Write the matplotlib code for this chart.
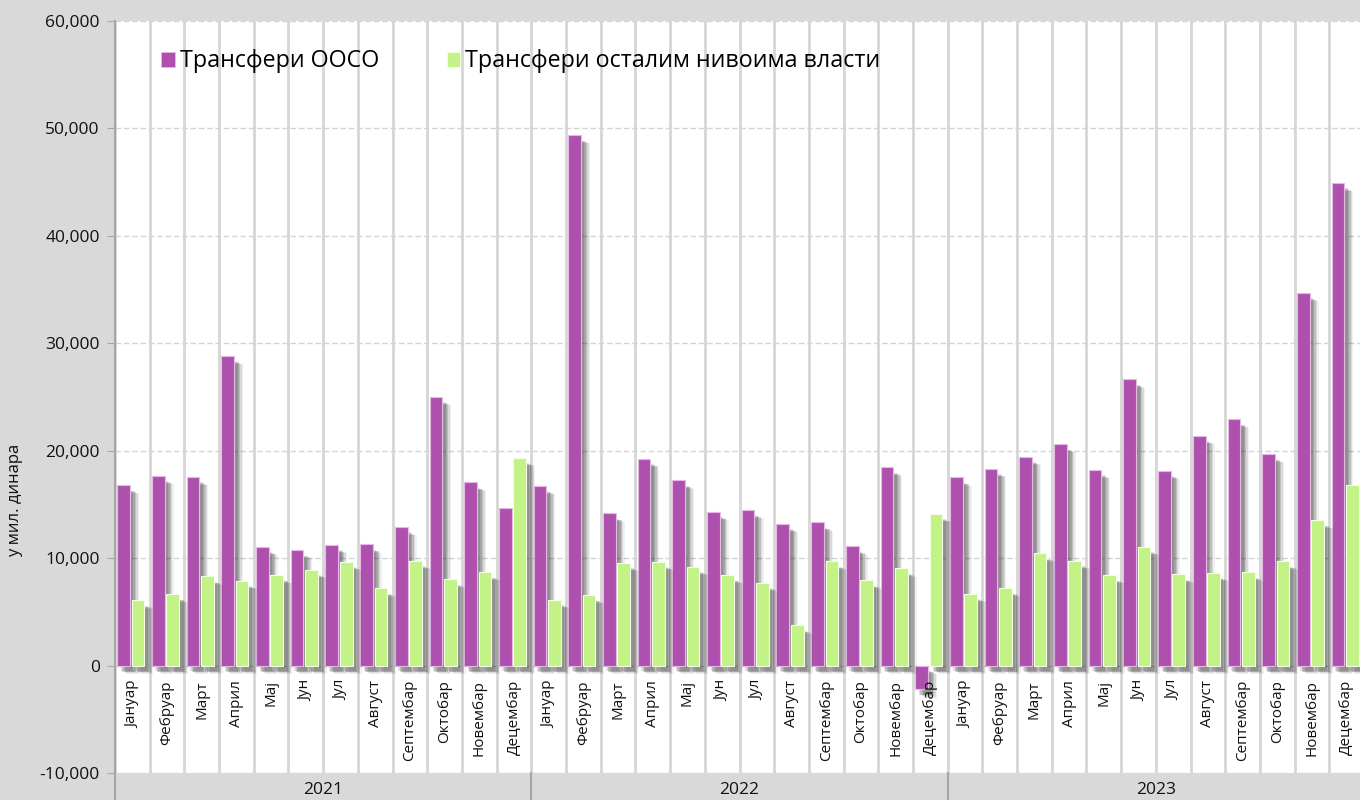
import matplotlib
matplotlib.use("Agg")
import matplotlib.pyplot as plt
import matplotlib.patheffects as pe
from matplotlib.patches import Patch
from matplotlib.lines import Line2D
from matplotlib.ticker import FuncFormatter, FixedLocator
import matplotlib.transforms as mtransforms

plt.rcParams['font.family'] = ['Open Sans', 'DejaVu Sans']

months = ["Јануар", "Фебруар", "Март", "Април", "Мај", "Јун", "Јул", "Август",
          "Септембар", "Октобар", "Новембар", "Децембар"]
years = ["2021", "2022", "2023"]

ooso = [16800, 17650, 17550, 28800, 11050, 10750, 11250, 11270, 12900, 25000, 17050, 14620,
        16700, 49350, 14150, 19250, 17230, 14300, 14460, 13200, 13320, 11090, 18430, -2200,
        17500, 18300, 19420, 20600, 18200, 26620, 18130, 21380, 22930, 19680, 34680, 44910]
ostali = [6070, 6650, 8300, 7890, 8420, 8910, 9660, 7180, 9750, 8020, 8700, 19330,
          6120, 6560, 9560, 9660, 9190, 8420, 7700, 3740, 9690, 7920, 9040, 14120,
          6680, 7210, 10440, 9750, 8420, 11050, 8480, 8630, 8670, 9690, 13540, 16790]

series_names = ["Трансфери ООСО", "Трансфери осталим нивоима власти"]
ylabel = "у мил. динара"

c_purple = "#AE51AE"
c_green = "#C3F386"
bg = "#D9D9D9"

fig = plt.figure(figsize=(13.6, 8), dpi=100, facecolor=bg)
ax = fig.add_axes([115/1360, 27/800, 1249/1360, (773-20.7)/800])
ax.set_facecolor("white")

n = len(ooso)
x = list(range(n))
labels = [m for _ in years for m in months]

shadow = [pe.SimplePatchShadow(offset=(6.5, -6.0), shadow_rgbFace="#000000", alpha=0.06),
          pe.SimplePatchShadow(offset=(5.5, -5.5), shadow_rgbFace="#000000", alpha=0.09),
          pe.SimplePatchShadow(offset=(4.5, -5.0), shadow_rgbFace="#000000", alpha=0.12),
          pe.SimplePatchShadow(offset=(3.5, -4.5), shadow_rgbFace="#000000", alpha=0.14),
          pe.SimplePatchShadow(offset=(2.5, -4.0), shadow_rgbFace="#000000", alpha=0.12),
          pe.Normal()]

ax.bar([i - 0.251 for i in x], ooso, width=0.366, color=c_purple,
       edgecolor="#E7B8E7", linewidth=0.8, zorder=3, path_effects=shadow)
ax.bar([i + 0.163 for i in x], ostali, width=0.366, color=c_green,
       edgecolor="#F2FFE4", linewidth=0.8, zorder=4, path_effects=shadow)

ax.set_xlim(-0.5, n - 0.5)
ax.set_ylim(-10000, 60000)
ax.set_yticks(range(-10000, 60001, 10000))
ax.yaxis.set_major_formatter(FuncFormatter(lambda v, p: f"{int(v):,}"))
ax.tick_params(axis="y", length=6, color="#A6A6A6", labelsize=12.5, labelcolor="#111111", pad=5)
ax.set_xticks([])
ax.xaxis.set_minor_locator(FixedLocator([i - 0.5 for i in range(n + 1)]))
ax.tick_params(axis="x", which="both", length=0)
ax.grid(axis="y", which="major", linestyle=(0, (4, 2)), color="#D4D4D4", linewidth=1, zorder=0)
ax.grid(axis="x", which="minor", linestyle="-", color="#D6D6D6", linewidth=2, zorder=0)
ax.set_axisbelow(True)
for s in ["top", "right", "bottom"]:
    ax.spines[s].set_visible(False)
ax.spines["left"].set_color("#A6A6A6")
ax.spines["left"].set_linewidth(1.5)

# month labels
for i, lab in enumerate(labels):
    ax.text(i, -1350, lab, rotation=90, ha="center", va="top", fontsize=11,
            color="#111111", zorder=5)

# year labels and separators below plot area
trans = mtransforms.blended_transform_factory(ax.transData, fig.transFigure)
for k, yr in enumerate(years):
    ax.text(k * 12 + 5.5, 10/800, yr, transform=trans, ha="center", va="center",
            fontsize=12.5, color="#111111")
    ax.add_line(Line2D([k * 12 - 0.5, k * 12 - 0.5], [0, 27/800], transform=trans,
                       color="#A6A6A6", linewidth=1.5, clip_on=False))

fig.text(15/1360, 1 - 500/800, ylabel, rotation=90, ha="center", va="center",
         fontsize=12, color="#111111")

handles = [Patch(facecolor=c_purple, edgecolor="#E7B8E7", linewidth=0.6),
           Patch(facecolor=c_green, edgecolor="#F2FFE4", linewidth=0.6)]
leg = ax.legend(handles, series_names, loc="center left", bbox_to_anchor=(0.037, 0.946),
                ncol=2, frameon=False, fontsize=16.75, handlelength=0.6, handleheight=0.6,
                handletextpad=0.2, columnspacing=2.9, borderaxespad=0, borderpad=0)

fig.savefig("out.png", dpi=100, facecolor=bg)
